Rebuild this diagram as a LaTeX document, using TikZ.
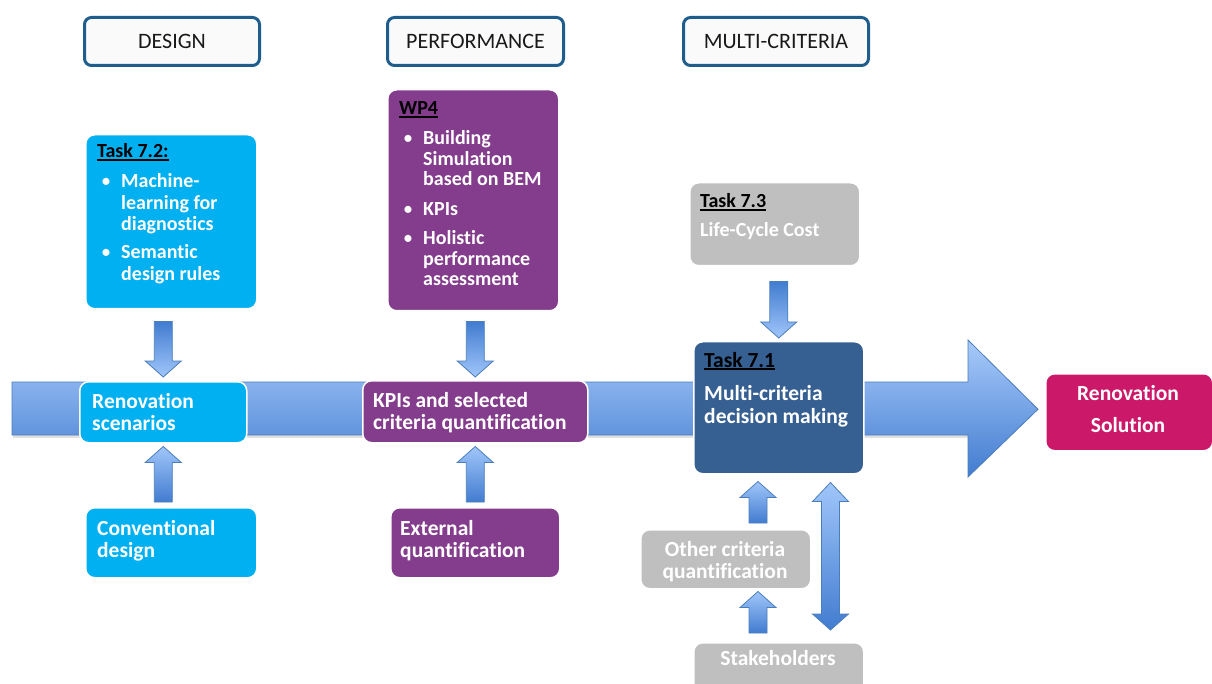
\documentclass[tikz,border=0pt]{standalone}
\usepackage{fontspec}
\setmainfont{Carlito}[Ligatures=NoCommon]
\usetikzlibrary{calc,backgrounds}
\definecolor{cyanb}{RGB}{0,176,240}
\definecolor{purp}{RGB}{132,60,140}
\definecolor{navyb}{RGB}{55,96,146}
\definecolor{grayb}{RGB}{191,191,191}
\definecolor{magb}{RGB}{204,24,104}
\definecolor{hdrline}{RGB}{31,94,140}
\definecolor{arrline}{RGB}{74,126,187}
\definecolor{arrlight}{RGB}{160,198,250}
\definecolor{arrdark}{RGB}{66,124,208}
\definecolor{bandlight}{RGB}{168,202,250}
\definecolor{banddark}{RGB}{66,124,208}
\newsavebox\ulbox
\newcommand\myul[1]{\sbox\ulbox{#1}\rlap{\rule[-3.2pt]{\wd\ulbox}{1.8pt}}\usebox\ulbox}
\newcommand\blt{\makebox[24pt][l]{\hspace{4pt}\mdseries\textbullet}}
\newcommand\ind{\hspace{24pt}}
% block arrow: #1 style, #2 tail point, #3 tip point (vertical)
\newcommand\blockarrow[3]{%
  \path[#1] let \p1=(#2), \p2=(#3), \n1={sign(\y1-\y2)} in
    ({\x2-9pt},{\y1}) -- ({\x2-9pt},{\y2+\n1*16pt}) -- ({\x2-18pt},{\y2+\n1*16pt}) -- (\p2)
    -- ({\x2+18pt},{\y2+\n1*16pt}) -- ({\x2+9pt},{\y2+\n1*16pt}) -- ({\x2+9pt},{\y1}) -- cycle;}
\newcommand\dblarrow[3]{%
  \path[#1] let \p1=(#2), \p2=(#3) in
    (\p1) -- ({\x1+18pt},{\y1-19pt}) -- ({\x1+9pt},{\y1-19pt}) -- ({\x1+9pt},{\y2+16pt})
    -- ({\x1+18pt},{\y2+16pt}) -- (\p2) -- ({\x1-18pt},{\y2+16pt}) -- ({\x1-9pt},{\y2+16pt})
    -- ({\x1-9pt},{\y1-19pt}) -- ({\x1-18pt},{\y1-19pt}) -- cycle;}
\begin{document}
\begin{tikzpicture}[x=1pt,y=-1pt,
  hdr/.style={draw=hdrline, line width=3pt, fill=black!2, rounded corners=7pt, anchor=north west,
    inner sep=0pt, font=\fontsize{22}{26}\selectfont, text=black!90},
  box/.style={draw=white, line width=1.5pt, rounded corners=9pt, anchor=north west, inner sep=0pt},
  cyanbox/.style={box, fill=cyanb},
  purpbox/.style={box, fill=purp},
  navybox/.style={box, fill=navyb},
  graybox/.style={box, fill=grayb},
  magbox/.style={box, fill=magb},
  txt/.style={inner sep=0pt, text=white, font=\fontsize{21.5}{22.5}\selectfont\bfseries},
  smalltxt/.style={inner sep=0pt, text=white, font=\fontsize{20}{21.5}\selectfont\bfseries},
  arrdown/.style={draw=arrline, line width=0.8pt, top color=arrdark, bottom color=arrlight},
  arrup/.style={draw=arrline, line width=0.8pt, top color=arrlight, bottom color=arrdark},
  band/.style={draw=arrline, line width=0.8pt, top color=bandlight, bottom color=banddark}]
\useasboundingbox (0,0) rectangle (1212,684);
\clip (0,0) rectangle (1212,684);

% headers
\node[hdr, minimum width=175pt, minimum height=48pt] (hdesign) at (83,16) {DESIGN};
\node[hdr, minimum width=176pt, minimum height=48pt] (hperf) at (386,16) {PERFORMANCE};
\node[hdr, minimum width=185pt, minimum height=48pt] (hmulti) at (682,16) {MULTI-CRITERIA};

% boxes
\node[cyanbox, minimum width=171pt, minimum height=174pt] (t72) at (85,134) {};
\node[purpbox, minimum width=171pt, minimum height=221pt] (wp4) at (387,89) {};
\node[graybox, minimum width=170pt, minimum height=83pt] (t73) at (689,182) {};
\node[cyanbox, minimum width=167pt, minimum height=61pt] (ren) at (79,381) {};
\node[purpbox, minimum width=225pt, minimum height=62pt] (kpi) at (362,380) {};
\node[navybox, minimum width=170pt, minimum height=132pt] (t71) at (693,341) {};
\node[cyanbox, minimum width=171pt, minimum height=70pt] (conv) at (85,507) {};
\node[purpbox, minimum width=169pt, minimum height=70pt] (ext) at (390,507) {};
\node[graybox, minimum width=170pt, minimum height=59pt] (oth) at (640,529) {};
\node[graybox, minimum width=170pt, minimum height=60pt] (stk) at (693,642) {};
\node[magbox, minimum width=167pt, minimum height=77pt] (sol) at (1045,373) {};

% texts
\node[smalltxt, anchor=base west] (t72txt) at (97,158) {\begin{tabular}[t]{@{}l@{}}
  \textcolor{black}{\myul{Task 7.2:}}\\[8.5pt]
  \blt Machine-\\ \ind learning for\\ \ind diagnostics\\[6.5pt]
  \blt Semantic\\ \ind design rules\end{tabular}};
\node[smalltxt, anchor=base west, font=\fontsize{20}{20.5}\selectfont\bfseries] (wp4txt) at (399,115) {\begin{tabular}[t]{@{}l@{}}
  \textcolor{black}{\myul{WP4}}\\[9.5pt]
  \blt Building\\ \ind Simulation\\ \ind based on BEM\\[9.5pt]
  \blt KPIs\\[8.5pt]
  \blt Holistic\\ \ind performance\\ \ind assessment\end{tabular}};
\node[smalltxt, anchor=base west] (t73txt) at (700,208) {\begin{tabular}[t]{@{}l@{}}
  \textcolor{black}{\myul{Task 7.3}}\\[7.5pt] Life-Cycle Cost\end{tabular}};
\node[txt, anchor=base west] (rentxt) at (92,408) {\begin{tabular}[t]{@{}l@{}}Renovation\\scenarios\end{tabular}};
\node[txt, anchor=base west] (kpitxt) at (373,407) {\begin{tabular}[t]{@{}l@{}}KPIs and selected\\criteria quantification\end{tabular}};
\node[txt, anchor=base west] (t71txt) at (704,367) {\begin{tabular}[t]{@{}l@{}}
  \textcolor{black}{\myul{Task 7.1}}\\[11pt] Multi-criteria\\ decision making\end{tabular}};
\node[txt, anchor=base west] (convtxt) at (97,535) {\begin{tabular}[t]{@{}l@{}}Conventional\\design\end{tabular}};
\node[txt, anchor=base west] (exttxt) at (400,535) {\begin{tabular}[t]{@{}l@{}}External\\quantification\end{tabular}};
\node[txt, anchor=base] (othtxt) at (725,556) {\begin{tabular}[t]{@{}c@{}}Other criteria\\quantification\end{tabular}};
\node[txt, anchor=base] (stktxt) at (778,665) {Stakeholders};
\node[txt, anchor=base] (soltxt) at (1128,400) {\begin{tabular}[t]{@{}c@{}}Renovation\\[9.5pt]Solution\end{tabular}};

% block arrows
\blockarrow{arrdown}{$(ren.north |- t72.south)+(0,12)$}{$(ren.north)+(0,-4)$}
\blockarrow{arrdown}{$(kpi.north |- wp4.south)+(0,10)$}{$(kpi.north)+(0,-3)$}
\blockarrow{arrup}{$(ren.south |- conv.north)+(0,-5)$}{$(ren.south)+(0,3)$}
\blockarrow{arrup}{$(kpi.south |- ext.north)+(0,-5)$}{$(kpi.south)+(0,3)$}
\blockarrow{arrdown}{$(t71.north |- t73.south)+(0,15)$}{$(t71.north)+(0,-3)$}
\coordinate (c1) at ($(oth.north east)+(-53.5,0)$);
\blockarrow{arrup}{$(c1)+(0,-6)$}{$(c1 |- t71.south)+(0,7)$}
\blockarrow{arrup}{$(c1 |- stk.north)+(0,-9)$}{$(c1 |- oth.south)+(0,2)$}
\coordinate (c2) at ($(t71.south east)+(-34,0)$);
\dblarrow{arrup}{$(c2)+(0,8)$}{$(c2 |- stk.north)+(0,-12)$}

% backbone arrow
\begin{scope}[on background layer]
\fill[white] (0,0) rectangle (1212,684);
\coordinate (bandtail) at (12,408.5);
\coordinate (bandtip) at ($(sol.west)+(-7,-3)$);
\fill[black, opacity=0.12] ($(bandtail)+(1,-24)$) -- ($(bandtail)+(956,-24)$) -- ($(bandtail)+(956,29.5)$) -- ($(bandtail)+(1,29.5)$) -- cycle;
\path[band] ($(bandtail)+(0,-26.5)$) -- ($(bandtail)+(956,-26.5)$) -- ($(bandtail)+(956,-68.5)$)
  -- (bandtip) -- ($(bandtail)+(956,68.5)$) -- ($(bandtail)+(956,26.5)$) -- ($(bandtail)+(0,26.5)$) -- cycle;
\end{scope}
\end{tikzpicture}
\end{document}
